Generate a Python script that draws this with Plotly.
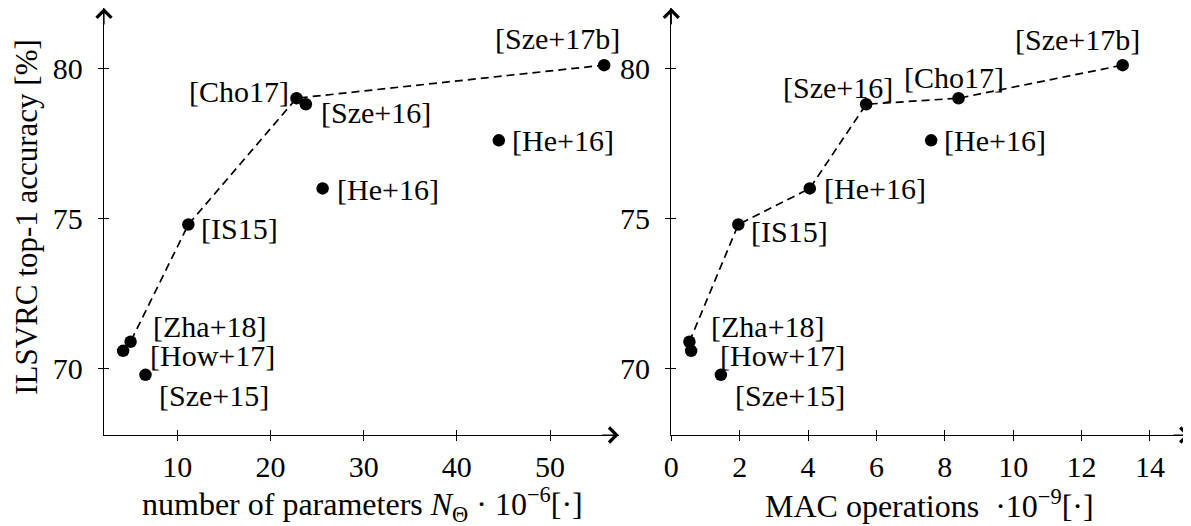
import plotly.graph_objects as go

# ---------------- data ----------------
names = ["[How+17]", "[Zha+18]", "[Sze+15]", "[IS15]", "[Cho17]",
         "[Sze+16]", "[He+16]", "[He+16]", "[Sze+17b]"]
params_m = [4.2, 5.0, 6.6, 11.2, 22.8, 23.8, 25.6, 44.5, 55.8]      # N_Theta * 1e-6
macs_g = [0.58, 0.53, 1.45, 1.96, 8.4, 5.7, 4.05, 7.6, 13.2]        # MACs * 1e-9
top1 = [70.6, 70.9, 69.8, 74.8, 79.0, 78.8, 76.0, 77.6, 80.1]       # %

front_left = [0, 1, 3, 4, 8]        # indices on the dashed front (params)
front_right = [1, 3, 6, 5, 4, 8]    # indices on the dashed front (MACs)

x1_ticks = [10, 20, 30, 40, 50]
x2_ticks = [0, 2, 4, 6, 8, 10, 12, 14]
y_ticks = [70, 75, 80]

# label placement (anchor, xshift px, yshift px) -- styling only
lab_left = [("left", 25, -5), ("left", 20, 15), ("left", 12, -21), ("left", 11, -4),
            ("right", -6, 7), ("left", 13, -8), ("left", 12, -1), ("left", 11, 0),
            ("center", -47, 27)]
lab_right = [("left", 27, -5), ("left", 20, 15), ("left", 12, -21), ("left", 11, -7),
             ("center", -5, 21), ("center", -28, 17), ("left", 12, 0), ("left", 11, 0),
             ("center", -45, 26)]

FONT = "Liberation Serif"
FS = 30
FS_T = 32
OFF = 8                     # page body margin of the html page
W, H = 1191 - OFF, 526 - OFF

def px(v):  # page x pixel -> paper fraction
    return min(1.0, max(0.0, (v - OFF) / W))

def py(v):  # page y pixel -> paper fraction (from bottom)
    return min(1.0, max(0.0, 1 - (v - OFF) / H))

x1_range = [2.15, 57.37]
x2_range = [0, 15.17]
y_range = [67.8, 82.0]
dom1 = [px(104), px(618.8)]
dom2 = [px(671.3), px(1190)]
domy = [py(435), py(8)]

fig = go.Figure()

def add_panel(xs, front, xa, ya):
    fig.add_trace(go.Scatter(
        x=[xs[i] for i in front], y=[top1[i] for i in front], mode="lines",
        line=dict(color="black", width=1.7, dash="8px,5px"),
        xaxis=xa, yaxis=ya, showlegend=False, hoverinfo="skip"))
    fig.add_trace(go.Scatter(
        x=xs, y=top1, mode="markers",
        marker=dict(color="black", size=12.5),
        xaxis=xa, yaxis=ya, showlegend=False, text=names))

add_panel(params_m, front_left, "x", "y")
add_panel(macs_g, front_right, "x2", "y2")
# dummy traces so overlay axes (inside ticks) are drawn
fig.add_trace(go.Scatter(x=[None], y=[None], xaxis="x3", yaxis="y3", showlegend=False))
fig.add_trace(go.Scatter(x=[None], y=[None], xaxis="x4", yaxis="y4", showlegend=False))

base = dict(showgrid=False, zeroline=False, automargin=False,
            tickcolor="black", tickwidth=1, ticklen=5, fixedrange=True)
main = dict(base, showline=True, linecolor="black", linewidth=1.4, ticks="outside",
            tickfont=dict(family=FONT, size=FS, color="black"), tickmode="array")
over = dict(base, showline=False, ticks="inside", showticklabels=False, tickmode="array")

fig.update_layout(
    width=W, height=H,
    margin=dict(l=0, r=0, t=0, b=0),
    paper_bgcolor="white", plot_bgcolor="rgba(0,0,0,0)",
    xaxis=dict(main, domain=dom1, range=x1_range, tickvals=x1_ticks, anchor="y",
               ticklabelstandoff=0),
    yaxis=dict(main, domain=domy, range=y_range, tickvals=y_ticks, anchor="x",
               ticklabelstandoff=9),
    xaxis2=dict(main, domain=dom2, range=x2_range, tickvals=x2_ticks, anchor="y2",
                ticklabelstandoff=0),
    yaxis2=dict(main, domain=domy, range=y_range, tickvals=y_ticks, anchor="x2",
                ticklabelstandoff=9),
    xaxis3=dict(over, overlaying="x", range=x1_range, tickvals=x1_ticks, anchor="y3"),
    yaxis3=dict(over, overlaying="y", range=y_range, tickvals=y_ticks, anchor="x3"),
    xaxis4=dict(over, overlaying="x2", range=x2_range, tickvals=x2_ticks, anchor="y4"),
    yaxis4=dict(over, overlaying="y2", range=y_range, tickvals=y_ticks, anchor="x4"),
)

ann = []
# point labels
for xs, labs, xr, yr in [(params_m, lab_left, "x", "y"), (macs_g, lab_right, "x2", "y2")]:
    for i, (anc, dx, dy) in enumerate(labs):
        ann.append(dict(x=xs[i], y=top1[i], xref=xr, yref=yr, text=names[i],
                        showarrow=False, xanchor=anc, yanchor="middle",
                        xshift=dx, yshift=dy,
                        font=dict(family=FONT, size=FS, color="black")))
# axis arrows
arrow = dict(text="", showarrow=True, arrowhead=4, arrowsize=2.4, arrowwidth=1.2,
             arrowcolor="black", standoff=0)
ann.append(dict(arrow, x=x1_range[1], y=y_range[0], xref="x", yref="y", ax=-18, ay=0))
ann.append(dict(arrow, x=x1_range[0], y=y_range[1], xref="x", yref="y", ax=0, ay=18))
ann.append(dict(arrow, x=x2_range[1], y=y_range[0], xref="x2", yref="y2", ax=-18, ay=0))
ann.append(dict(arrow, x=x2_range[0], y=y_range[1], xref="x2", yref="y2", ax=0, ay=18))
# axis titles
tfont = dict(family=FONT, size=FS_T, color="black")
ann.append(dict(x=px(362), y=py(504), xref="paper", yref="paper", showarrow=False,
                text="number of parameters <i>N</i><sub>Θ</sub> · 10<sup>−6</sup>[·]",
                xanchor="center", yanchor="middle", font=tfont))
ann.append(dict(x=px(929), y=py(504), xref="paper", yref="paper", showarrow=False,
                text="MAC operations &nbsp;·10<sup>−9</sup>[·]",
                xanchor="center", yanchor="middle", font=tfont))
ann.append(dict(x=px(27), y=py(216.7), xref="paper", yref="paper", showarrow=False,
                text="ILSVRC top-1 accuracy [%]", textangle=-90,
                xanchor="center", yanchor="middle",
                font=dict(family=FONT, size=31, color="black")))
fig.update_layout(annotations=ann)

fig.write_html("out.html")
